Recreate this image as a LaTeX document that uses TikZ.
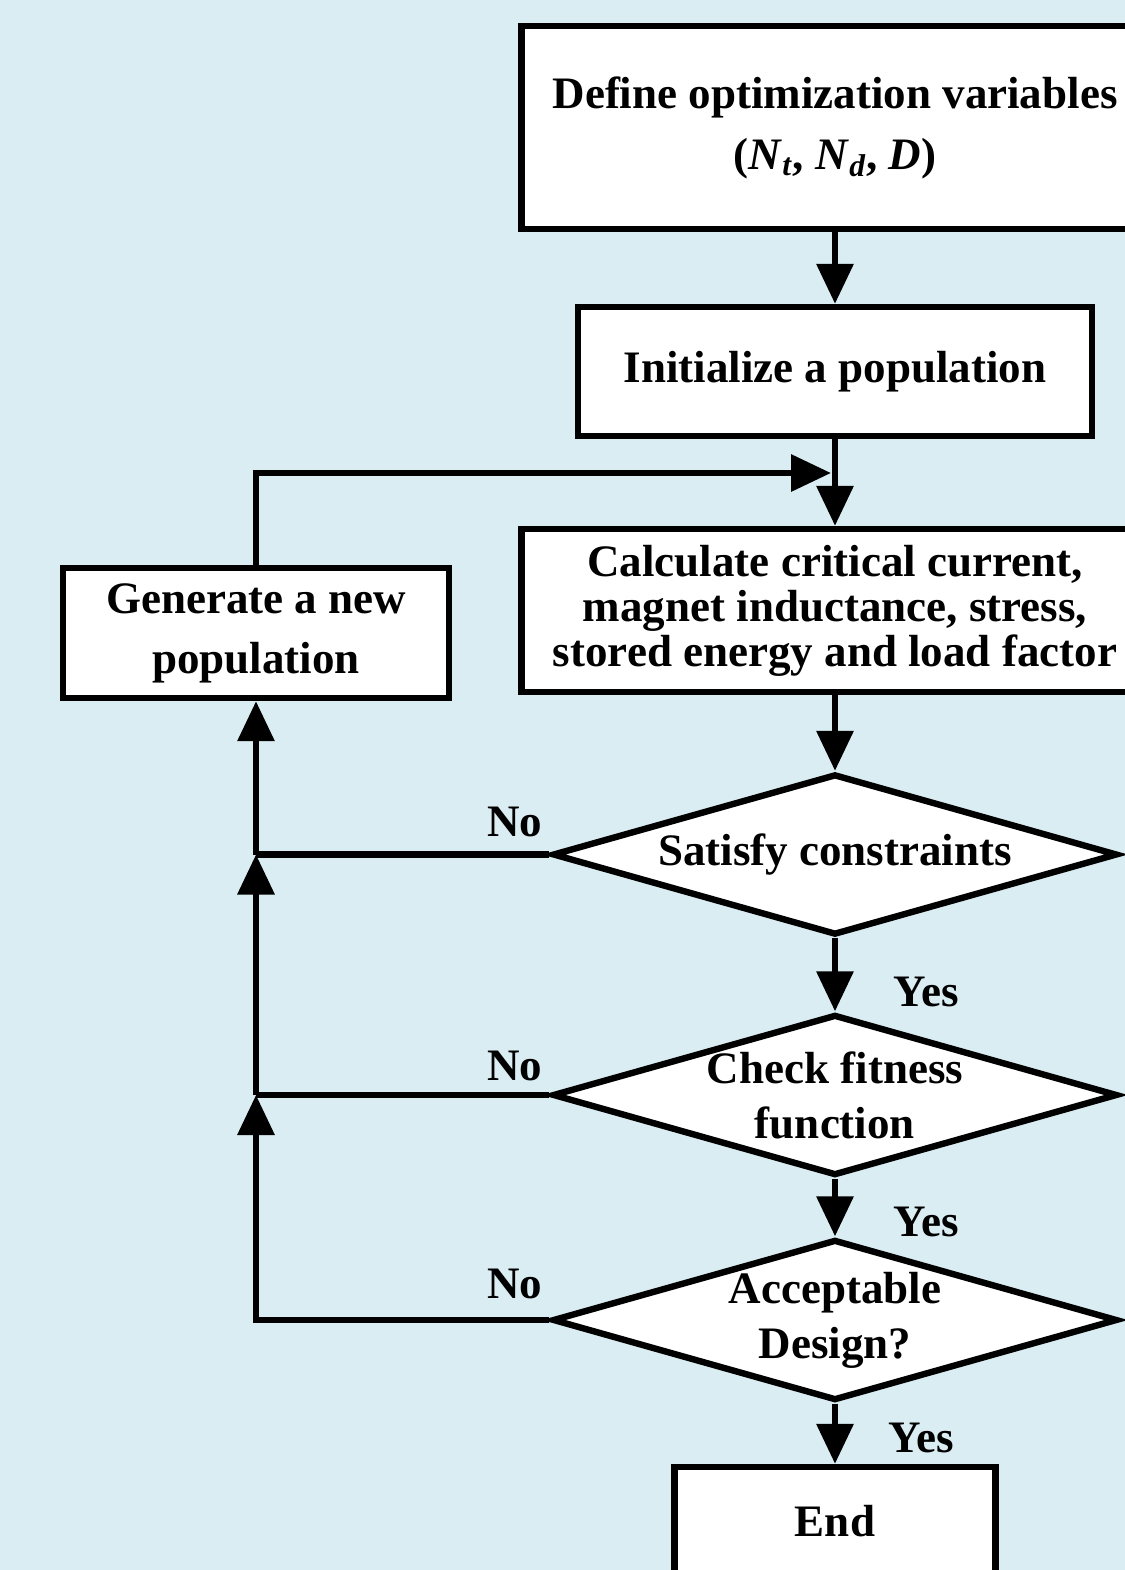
\documentclass[tikz,border=0pt]{standalone}
\usepackage{fontspec}
\setmainfont{Liberation Serif}
\usetikzlibrary{shapes.geometric,arrows.meta}
\definecolor{bg}{RGB}{218,237,243}
\begin{document}
\begin{tikzpicture}[x=0.5pt,y=-0.5pt,
  box/.style={draw,fill=white,line width=3.2pt,inner sep=0pt,align=center,
    font=\fontsize{22.5}{27}\selectfont\bfseries},
  dia/.style={diamond,draw,fill=white,line width=3.2pt,inner sep=0pt,align=center,
    aspect=3.51,minimum width=282.5pt,minimum height=80.5pt,
    font=\fontsize{22.5}{27.5}\selectfont\bfseries},
  lbl/.style={inner sep=0pt,font=\fontsize{22.5}{27}\selectfont\bfseries},
  arr/.style={line width=3.2pt,-{Triangle[width=18pt,length=20pt]}},
  ln/.style={line width=3.2pt}]
\useasboundingbox (0,0) rectangle (1125,1570);
\fill[bg] (0,0) rectangle (1125,1570);
\clip (0,0) rectangle (1125,1570);

\node[box,minimum width=313.5pt,minimum height=101.5pt,
  font=\fontsize{22.5}{32.5}\selectfont\bfseries] (def) at (835,127.5)
  {\raisebox{-2pt}{Define optimization variables}\\(\textit{N}\textsubscript{\textit{t}}, \textit{N}\textsubscript{\textit{d}}, \textit{D})};
\node[box,minimum width=257pt,minimum height=64.5pt] (init) at (835,371.5) {Initialize a population};
\node[box,minimum width=313.5pt,minimum height=81.5pt,
  font=\fontsize{22.5}{22.5}\selectfont\bfseries] (calc) at (835,610.5)
  {Calculate critical current,\\magnet inductance, stress,\\stored energy and load factor};
\node[box,minimum width=193pt,minimum height=65pt,
  font=\fontsize{22.5}{30}\selectfont\bfseries] (gen) at (256,633) {Generate a new\\population};
\node[dia] (d1) at (835,854.5) {Satisfy constraints};
\node[dia] (d2) at (835,1095) {Check fitness\\function};
\node[dia] (d3) at (835,1320) {Acceptable\\Design?};
\node[box,minimum width=160.5pt,minimum height=54pt] (end) at (835,1521) {End};

\coordinate (m) at (835,473);
\coordinate (j1) at (256,854.5);
\coordinate (j2) at (256,1095);
\coordinate (j3) at (256,1320);

\draw[arr] (def.south) -- (init.north);
\draw[arr] (init.south) -- (calc.north);
\draw[arr,shorten >=2pt] (gen.north) |- (m);
\draw[arr] (calc.south) -- (d1.north);
\draw[arr] (d1.south) -- (d2.north);
\draw[arr] (d2.south) -- (d3.north);
\draw[arr] (d3.south) -- (end.north);

\draw[ln] (d1.west) -- (j1);
\draw[ln] (d2.west) -- (j2);
\draw[arr] (j1) -- (gen.south);
\draw[arr] (j2) -- (j1);
\draw[arr] (d3.west) -- (j3) -- (j2);

\node[lbl] (no1) at (515,822) {No};
\node[lbl] (no2) at (515,1066) {No};
\node[lbl] (no3) at (515,1284) {No};
\node[lbl] (y1) at (926,992) {Yes};
\node[lbl] (y2) at (926,1222) {Yes};
\node[lbl] (y3) at (921,1438) {Yes};
\end{tikzpicture}
\end{document}
